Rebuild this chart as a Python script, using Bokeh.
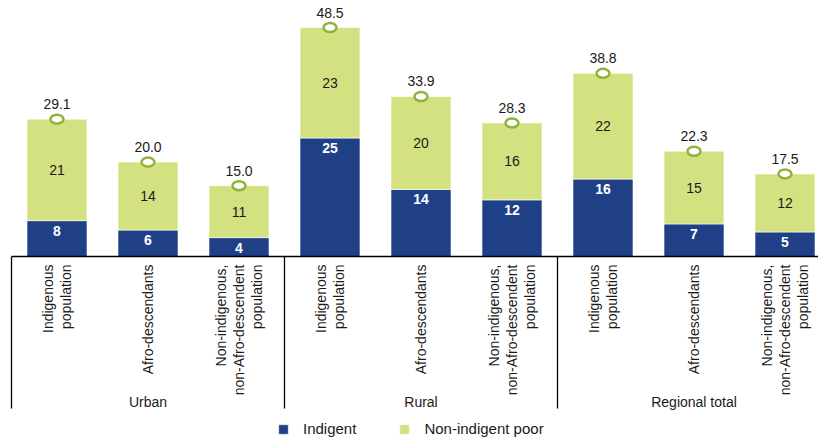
import numpy as np
from bokeh.plotting import figure
from bokeh.models import Range1d, ColumnDataSource, Legend, LegendItem
from bokeh.core.properties import value
from bokeh.embed import file_html
from bokeh.resources import INLINE

# ---------------- data ----------------
groups = ["Urban", "Rural", "Regional total"]
categories = ["Indigenous\npopulation", "Afro-descendants",
              "Non-indigenous,\nnon-Afro-descendent\npopulation"]
indigent = [7.6, 5.6, 4.0, 25.1, 14.2, 12.0, 16.4, 6.9, 5.2]
total_poor = [29.1, 20.0, 15.0, 48.5, 33.9, 28.3, 38.8, 22.3, 17.5]
indigent_labels = ["8", "6", "4", "25", "14", "12", "16", "7", "5"]
non_indigent_labels = ["21", "14", "11", "23", "20", "16", "22", "15", "12"]

# ---------------- layout constants ----------------
W, H = 818, 438
PX_PER_UNIT = 4.72          # vertical pixels per percentage point
BASE_PX = 256               # pixels above the baseline
STEP_PX = 91                # pixels per category on x
LEFT_PX = 11                # pixels left of the first group
y_top = BASE_PX / PX_PER_UNIT
y_bot = -(H - BASE_PX) / PX_PER_UNIT
x_start = -LEFT_PX / STEP_PX
x_end = x_start + W / STEP_PX

def px(v):
    return v / PX_PER_UNIT

FONT = value("Liberation Sans")
BLUE = "#1f3f87"
GREEN = "#d4e181"
MARK = "#8db33b"
TXT = "#1a1a1a"

n = len(total_poor)
xs = [i + 0.5 for i in range(n)]
non_indigent = [t - a for t, a in zip(total_poor, indigent)]

src = ColumnDataSource(dict(
    x=xs, indigent=indigent, non_indigent=non_indigent, total=total_poor,
    ind_lab=indigent_labels, non_lab=non_indigent_labels,
    tot_lab=[f"{t:.1f}" for t in total_poor],
    ind_y=[a - px(10) for a in indigent],
    non_y=[a + (t - a) / 2 for t, a in zip(total_poor, indigent)],
    tot_y=[t + px(15) for t in total_poor],
))

p = figure(width=W, height=H, output_backend="svg", toolbar_location=None,
           x_range=Range1d(x_start, x_end), y_range=Range1d(y_bot, y_top),
           min_border=0, min_border_left=0, min_border_right=0,
           min_border_top=0, min_border_bottom=0)
p.axis.visible = False
p.grid.visible = False
p.outline_line_color = None
p.background_fill_color = "white"

r_ind = p.vbar(x="x", bottom=0, top="indigent", width=60 / STEP_PX, source=src,
               fill_color=BLUE, line_color="white", line_width=0.6)
r_non = p.vbar(x="x", bottom="indigent", top="total", width=60 / STEP_PX, source=src,
               fill_color=GREEN, line_color="white", line_width=0.6)

# baseline and group separators
p.segment(x0=[0], y0=[0], x1=[n], y1=[0], line_color="black", line_width=1.3)
n_per = len(categories)
sep_x = [g * n_per for g in range(len(groups))]
p.segment(x0=sep_x, y0=[0] * len(sep_x), x1=sep_x, y1=[-px(152)] * len(sep_x),
          line_color="black", line_width=1.3)

# segment labels
p.text(x="x", y="ind_y", text="ind_lab", source=src, text_color="white",
       text_font=FONT, text_font_size="14px", text_font_style="bold",
       text_align="center", text_baseline="middle")
p.text(x="x", y="non_y", text="non_lab", source=src, text_color=TXT,
       text_font=FONT, text_font_size="14px",
       text_align="center", text_baseline="middle")

# total markers and labels
p.ellipse(x="x", y="total", width=13, height=9, width_units="screen",
          height_units="screen", source=src, fill_color="white",
          line_color=MARK, line_width=2.5)
p.text(x="x", y="tot_y", text="tot_lab", source=src, text_color=TXT,
       text_font=FONT, text_font_size="14px",
       text_align="center", text_baseline="middle")

# category labels (rotated)
cat_src = ColumnDataSource(dict(
    x=xs, y=[-px(8)] * n, text=[categories[i % n_per] for i in range(n)]))
p.text(x="x", y="y", text="text", source=cat_src, angle=np.pi / 2,
       text_color=TXT, text_font=FONT, text_font_size="14px",
       text_align="right", text_baseline="middle", text_line_height=1.15)

# group labels
grp_src = ColumnDataSource(dict(
    x=[g * n_per + n_per / 2 for g in range(len(groups))],
    y=[-px(145)] * len(groups), text=groups))
p.text(x="x", y="y", text="text", source=grp_src, text_color=TXT,
       text_font=FONT, text_font_size="14px",
       text_align="center", text_baseline="middle")

# legend
legend = Legend(items=[LegendItem(label="Indigent", renderers=[r_ind]),
                       LegendItem(label="Non-indigent poor", renderers=[r_non])],
                orientation="horizontal", location=(277, 1),
                glyph_width=12, glyph_height=12, label_height=14,
                label_standoff=14, spacing=42, padding=0, margin=0,
                label_text_font="Liberation Sans", label_text_font_size="15px",
                label_text_color=TXT, border_line_color=None,
                background_fill_alpha=0)
p.add_layout(legend)

open("out.html", "w").write(file_html(p, INLINE))
